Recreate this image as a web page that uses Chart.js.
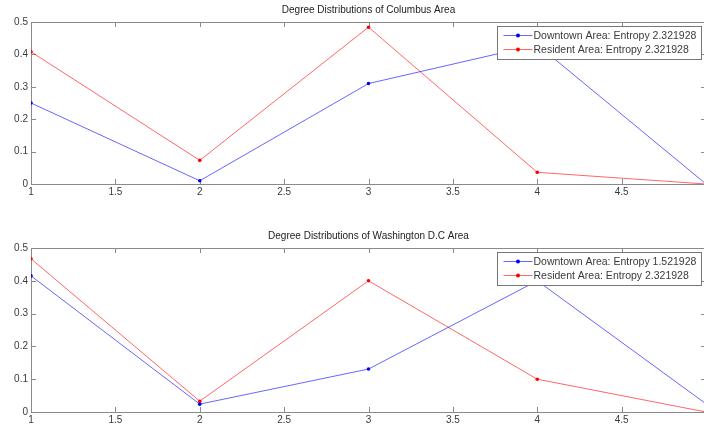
<!DOCTYPE html>
<html>
<head>
<meta charset="utf-8">
<script src="https://cdn.jsdelivr.net/npm/chart.js@4.4.1/dist/chart.umd.min.js"></script>
<style>
    html, body { margin: 0; padding: 0; background: #fff; overflow: hidden; width: 704px; height: 428px; }
    canvas { position: absolute; left: 0; }
    #chart1 { top: 0; }
    #chart2 { top: 220px; }
</style>
</head>
<body>
<canvas id="chart1" width="710" height="200"></canvas>
<canvas id="chart2" width="710" height="208"></canvas>
<script>
/* ===== DATA ===== */
const degrees = [1, 2, 3, 4, 5];
const xTicks = [1, 1.5, 2, 2.5, 3, 3.5, 4, 4.5];

const columbusDowntown = [0.25, 0.01, 0.31, 0.43, 0.0];
const columbusResident = [0.408, 0.073, 0.484, 0.036, 0.0];
const dcDowntown = [0.415, 0.024, 0.131, 0.40, 0.025];
const dcResident = [0.467, 0.033, 0.40, 0.10, 0.0];

const columbusLabels = ['Downtown Area: Entropy 2.321928', 'Resident Area: Entropy 2.321928'];
const dcLabels = ['Downtown Area: Entropy 1.521928', 'Resident Area: Entropy 2.321928'];

const FONT = '"Liberation Sans", Arial, sans-serif';
const BLUE = 'rgba(0, 0, 255, 0.6)';
const RED = 'rgba(255, 0, 0, 0.6)';
const AXIS = '#8a8a8a';
const TEXT = '#3a3a3a';

/* ===== MATLAB STYLE AXES: box, inner ticks, title, legend ===== */
const matlabAxes = {
    id: 'matlabAxes',
    beforeDatasetsDraw(chart, args, opts) {
        const { ctx, chartArea: a, scales } = chart;
        ctx.save();
        ctx.strokeStyle = AXIS;
        ctx.lineWidth = 1;
        ctx.strokeRect(Math.round(a.left) + 0.5, Math.round(a.top) + 0.5,
            Math.round(a.right - a.left), Math.round(a.bottom - a.top));

        ctx.beginPath();
        scales.x.ticks.forEach(t => {
            const px = Math.round(scales.x.getPixelForValue(t.value)) + 0.5;
            ctx.moveTo(px, a.bottom); ctx.lineTo(px, a.bottom - 5);
            ctx.moveTo(px, a.top); ctx.lineTo(px, a.top + 5);
        });
        scales.y.ticks.forEach(t => {
            const py = Math.round(scales.y.getPixelForValue(t.value)) + 0.5;
            ctx.moveTo(a.left, py); ctx.lineTo(a.left + 5, py);
            ctx.moveTo(a.right, py); ctx.lineTo(a.right - 5, py);
        });
        ctx.stroke();

        // title over the axes
        ctx.fillStyle = '#222';
        ctx.font = '10px ' + FONT;
        ctx.textAlign = 'center';
        ctx.textBaseline = 'middle';
        ctx.fillText(opts.title, (a.left + a.right) / 2, a.top - 11.5);
        ctx.restore();
    },
    afterDraw(chart) {
        const { ctx, chartArea: a } = chart;
        const sets = chart.data.datasets;
        ctx.save();
        ctx.font = '10.5px ' + FONT;
        const textW = Math.max(...sets.map(d => ctx.measureText(d.label).width));
        const w = Math.round(37 + textW + 4);
        const h = 33;
        const lx = Math.round(a.right - 5 - w) + 0.5;
        const ly = Math.round(a.top + 4) + 0.5;

        ctx.fillStyle = '#fff';
        ctx.fillRect(lx, ly, w, h);
        ctx.strokeStyle = '#777';
        ctx.lineWidth = 1;
        ctx.strokeRect(lx, ly, w, h);

        sets.forEach((d, i) => {
            const y = ly + 9 + i * 14;
            ctx.strokeStyle = d.borderColor;
            ctx.beginPath();
            ctx.moveTo(lx + 6, y); ctx.lineTo(lx + 35, y);
            ctx.stroke();
            ctx.fillStyle = d.pointBackgroundColor;
            ctx.beginPath();
            ctx.arc(lx + 20.5, y, 2, 0, Math.PI * 2);
            ctx.fill();
            ctx.fillStyle = TEXT;
            ctx.textAlign = 'left';
            ctx.textBaseline = 'middle';
            ctx.fillText(d.label, lx + 36, y + 0.5);
        });
        ctx.restore();
    }
};

/* ===== BUILD CHART ===== */
function toPoints(values) {
    return degrees.map((x, i) => ({ x: x, y: values[i] }));
}

function makeSeries(label, values, lineColor, dotColor) {
    return {
        label: label,
        data: toPoints(values),
        borderColor: lineColor,
        borderWidth: 1,
        pointRadius: 1.8,
        pointBorderWidth: 0,
        pointBackgroundColor: dotColor,
        tension: 0,
        fill: false
    };
}

function makeChart(id, title, labels, downtown, resident, padTop) {
    const tickFont = { family: FONT, size: 10 };
    return new Chart(document.getElementById(id), {
        type: 'line',
        data: {
            datasets: [
                makeSeries(labels[0], downtown, BLUE, '#0000ff'),
                makeSeries(labels[1], resident, RED, '#ff0000')
            ]
        },
        options: {
            responsive: false,
            animation: false,
            layout: { padding: { top: padTop, right: 3, left: 0, bottom: 0 } },
            plugins: {
                legend: { display: false },
                tooltip: { enabled: false },
                matlabAxes: { title: title }
            },
            scales: {
                x: {
                    type: 'linear',
                    min: 1,
                    max: 5,
                    afterBuildTicks: axis => { axis.ticks = xTicks.map(v => ({ value: v })); },
                    ticks: {
                        color: TEXT, font: tickFont, padding: 2, maxRotation: 0, autoSkip: false,
                        callback: value => String(value)
                    },
                    grid: { display: false, drawTicks: false },
                    border: { display: false },
                    afterFit: s => { s.height = 16; }
                },
                y: {
                    min: 0,
                    max: 0.5,
                    ticks: { stepSize: 0.1, color: TEXT, font: tickFont, padding: 3 },
                    grid: { display: false, drawTicks: false },
                    border: { display: false },
                    afterFit: s => { s.width = 31; }
                }
            }
        },
        plugins: [matlabAxes]
    });
}

document.addEventListener('DOMContentLoaded', function() {
    makeChart('chart1', 'Degree Distributions of Columbus Area', columbusLabels,
        columbusDowntown, columbusResident, 22);
    makeChart('chart2', 'Degree Distributions of Washington D.C Area', dcLabels,
        dcDowntown, dcResident, 28);
});
</script>
</body>
</html>
